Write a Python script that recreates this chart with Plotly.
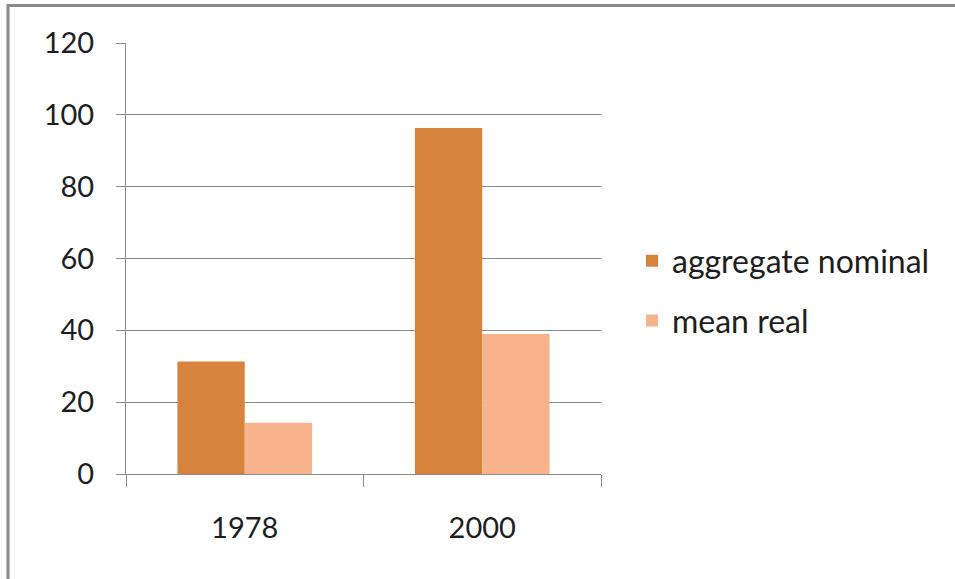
import plotly.graph_objects as go

# Chart data
years = ["1978", "2000"]
aggregate_nominal = [31.3, 96.3]
mean_real = [14.3, 39.0]
y_ticks = [0, 20, 40, 60, 80, 100, 120]

NOMINAL_COLOR = "#D8833D"
REAL_COLOR = "#F8B38C"
GRID_COLOR = "#8C8C8C"
TEXT_COLOR = "#1E1E1E"
FONT = "Lato, 'DejaVu Sans', sans-serif"

# Plot area in pixels (left/right/top/bottom) for a 955x579 page
W, H = 955, 579
L, R, T, B = 126, 601, 43, 474

fig = go.Figure()
fig.add_trace(go.Bar(
    x=years, y=aggregate_nominal, name="aggregate nominal",
    marker=dict(color=NOMINAL_COLOR, line=dict(width=0)),
    legendgroup="a",
))
fig.add_trace(go.Bar(
    x=years, y=mean_real, name="mean real",
    marker=dict(color=REAL_COLOR, line=dict(width=0)),
    legendgroup="b",
))


def px_x(p):
    return (p - L) / (R - L)


def px_y(p):
    return (B - p) / (B - T)


# Outer frame around the chart
fig.add_shape(
    type="rect", xref="paper", yref="paper",
    x0=px_x(8), x1=px_x(W + 10), y0=px_y(H + 10), y1=px_y(5.5),
    line=dict(color="#8A8A8A", width=3), fillcolor="rgba(0,0,0,0)",
    layer="above",
)

fig.update_layout(
    width=W, height=H,
    margin=dict(l=L, r=W - R, t=T, b=H - B, pad=0),
    paper_bgcolor="white", plot_bgcolor="white",
    barmode="group", bargap=0.433, bargroupgap=0,
    font=dict(family=FONT, size=29, color=TEXT_COLOR),
    legend=dict(
        x=px_x(632), xanchor="left",
        y=px_y(291), yanchor="middle",
        traceorder="grouped", tracegroupgap=15,
        font=dict(family=FONT, size=32, color=TEXT_COLOR),
        bgcolor="rgba(0,0,0,0)",
    ),
    showlegend=True,
)

fig.update_xaxes(
    type="category", range=[-0.5, 1.5],
    showline=True, linecolor=GRID_COLOR, linewidth=1,
    ticks="outside", tickson="boundaries", ticklen=12,
    tickcolor=GRID_COLOR, tickwidth=1,
    showgrid=False, ticklabelstandoff=28,
    tickfont=dict(family=FONT, size=29, color=TEXT_COLOR),
)
fig.update_yaxes(
    range=[0, 120], tickvals=y_ticks,
    showline=True, linecolor=GRID_COLOR, linewidth=1,
    ticks="outside", ticklen=9, tickcolor=GRID_COLOR, tickwidth=1,
    showgrid=True, gridcolor=GRID_COLOR, gridwidth=1,
    zeroline=False, ticklabelstandoff=16,
    tickfont=dict(family=FONT, size=29, color=TEXT_COLOR),
)

fig.write_html("out.html")
